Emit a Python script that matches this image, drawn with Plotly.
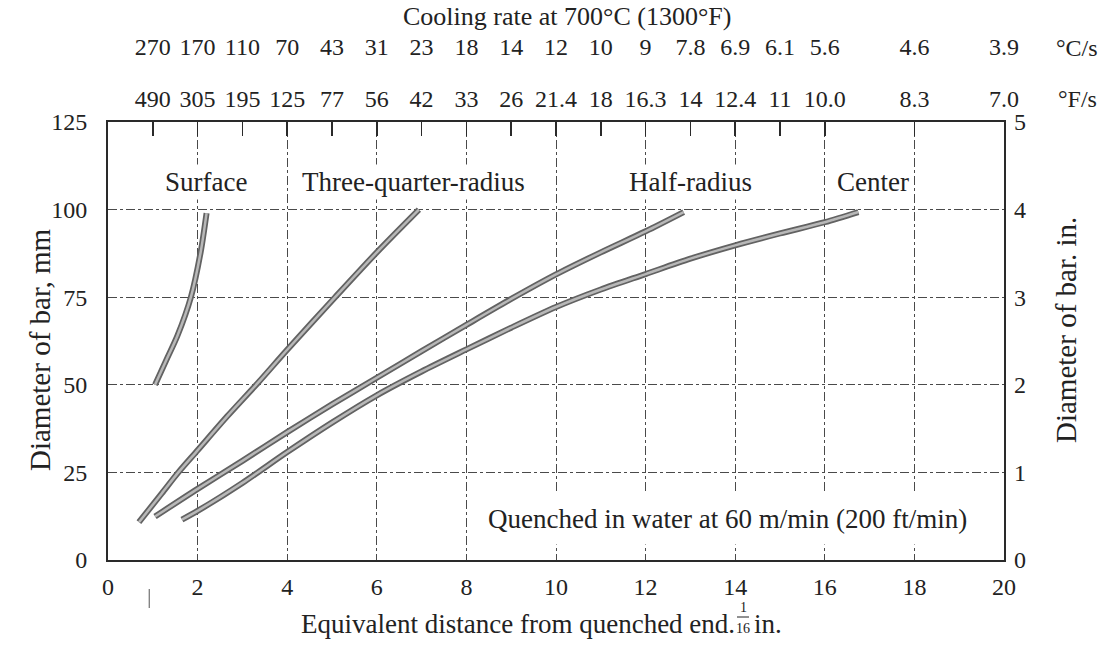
import plotly.graph_objects as go

# ---------------- data ----------------
dist_ticks = [0, 2, 4, 6, 8, 10, 12, 14, 16, 18, 20]
diam_mm_ticks = [0, 25, 50, 75, 100, 125]
diam_in_ticks = [0, 1, 2, 3, 4, 5]

rate_positions = [1, 2, 3, 4, 5, 6, 7, 8, 9, 10, 11, 12, 13, 14, 15, 16, 18, 20]
rate_c = ["270", "170", "110", "70", "43", "31", "23", "18", "14", "12", "10", "9",
          "7.8", "6.9", "6.1", "5.6", "4.6", "3.9"]
rate_f = ["490", "305", "195", "125", "77", "56", "42", "33", "26", "21.4", "18", "16.3",
          "14", "12.4", "11", "10.0", "8.3", "7.0"]

surface_x = [1.05, 1.30, 1.55, 1.85, 2.07, 2.20]
surface_y = [50, 57, 64, 75, 88, 99]

three_q_x = [0.69, 1.20, 1.57, 2.00, 2.66, 3.35, 4.00, 5.07, 6.00, 6.94]
three_q_y = [10.8, 19.0, 25.0, 31.3, 41.0, 50.6, 60.0, 75.0, 87.8, 100.0]

half_x = [1.05, 2.0, 3.0, 4.0, 5.0, 6.0, 7.0, 8.0, 9.0, 10.0, 11.0, 12.0, 12.85]
half_y = [12.4, 20.3, 28.3, 36.5, 44.4, 52.0, 59.6, 67.1, 74.5, 81.5, 87.8, 93.8, 99.3]

center_x = [1.65, 2.0, 3.0, 4.0, 5.0, 6.0, 7.0, 8.0, 9.0, 10.0, 11.0, 12.0, 13.0,
            14.0, 15.0, 16.0, 16.75]
center_y = [11.5, 14.0, 22.0, 30.8, 39.2, 47.0, 53.8, 60.1, 66.3, 72.2, 77.2, 81.6,
            86.0, 89.8, 93.2, 96.4, 99.3]

curve_labels = ["Surface", "Three-quarter-radius", "Half-radius", "Center"]
curve_label_x = [2.18, 6.83, 13.0, 17.07]
curve_label_y = 108

# ---------------- geometry helpers ----------------
# the page body margin is removed (post_script), so the figure starts at (0, 0)
OFF = 0
W, H = 1112 - OFF, 658 - OFF
PL, PR, PT, PB = 108 - OFF, 1004 - OFF, 122 - OFF, 560 - OFF   # plot area, figure px


def px(xs):
    """screen x pixel -> paper x"""
    return (xs - OFF - PL) / (PR - PL)


def py(ys):
    """screen y pixel -> paper y"""
    return (PB - (ys - OFF)) / PB


FONT = "Liberation Serif"
TXT = "#222222"
GRID = "#4a4a4a"
FRAME = "#2a2a2a"

fig = go.Figure()

for cx, cy in [(surface_x, surface_y), (three_q_x, three_q_y),
               (half_x, half_y), (center_x, center_y)]:
    fig.add_trace(go.Scatter(x=cx, y=cy, mode="lines",
                             line=dict(color="#626262", width=6, shape="spline", smoothing=0.8),
                             showlegend=False, hoverinfo="skip"))
    fig.add_trace(go.Scatter(x=cx, y=cy, mode="lines",
                             line=dict(color="#b8b8b8", width=2.5, shape="spline", smoothing=0.8),
                             showlegend=False, hoverinfo="skip"))

# dummy traces so the extra axes are drawn
fig.add_trace(go.Scatter(x=[0, 20], y=[None, None], xaxis="x2", yaxis="y",
                         mode="lines", showlegend=False, hoverinfo="skip"))
fig.add_trace(go.Scatter(x=[0, 20], y=[None, None], xaxis="x3", yaxis="y",
                         mode="lines", showlegend=False, hoverinfo="skip"))
fig.add_trace(go.Scatter(x=[None, None], y=[0, 5], xaxis="x", yaxis="y2",
                         mode="lines", showlegend=False, hoverinfo="skip"))

tickfont = dict(family=FONT, size=24, color=TXT)
ydom = [0, (PB - PT) / PB]

fig.update_layout(
    width=W, height=H,
    margin=dict(l=PL, r=W - PR, t=0, b=H - PB, autoexpand=False),
    paper_bgcolor="white", plot_bgcolor="white",
    showlegend=False,
    xaxis=dict(range=[0, 20], tickvals=dist_ticks, ticktext=[str(v) for v in dist_ticks],
               showgrid=True, gridcolor=GRID, gridwidth=1, griddash="dashdot",
               zeroline=False, showline=True, linecolor=FRAME, linewidth=2, mirror=True,
               ticks="", tickfont=tickfont, ticklabelstandoff=4, fixedrange=True),
    xaxis2=dict(range=[0, 20], overlaying="x", side="top", anchor="y",
                tickvals=rate_positions, ticktext=rate_f, ticks="inside", ticklen=14,
                tickcolor=FRAME, tickwidth=1.5, showgrid=False, zeroline=False,
                showline=False, tickfont=tickfont, ticklabelstandoff=9),
    xaxis3=dict(range=[0, 20], overlaying="x", side="top", anchor="free",
                position=py(60), tickvals=rate_positions, ticktext=rate_c, ticks="",
                showgrid=False, zeroline=False, showline=False, tickfont=tickfont),
    yaxis=dict(range=[0, 125], domain=ydom, tickvals=diam_mm_ticks,
               showgrid=True, gridcolor=GRID, gridwidth=1, griddash="dashdot",
               zeroline=False, showline=True, linecolor=FRAME, linewidth=2, mirror=True,
               ticks="", tickfont=tickfont, ticklabelstandoff=14),
    yaxis2=dict(range=[0, 5], overlaying="y", side="right", anchor="x",
                tickvals=diam_in_ticks, showgrid=False, zeroline=False, showline=False,
                ticks="", tickfont=tickfont, ticklabelstandoff=9),
)


def note(x, y, text, size, **kw):
    d = dict(x=x, y=y, xref="paper", yref="paper", text=text, showarrow=False,
             xanchor="center", yanchor="middle",
             font=dict(family=FONT, size=size, color=TXT))
    d.update(kw)
    return d


ann = []
for lab, lx in zip(curve_labels, curve_label_x):
    ann.append(dict(x=lx, y=curve_label_y, xref="x", yref="y", text=lab, showarrow=False,
                    xanchor="center", yanchor="middle",
                    font=dict(family=FONT, size=27, color=TXT), bgcolor="white", borderpad=2))
ann.append(dict(x=13.82, y=11.8, xref="x", yref="y",
                text="Quenched in water at 60 m/min (200 ft/min)", showarrow=False,
                xanchor="center", yanchor="middle",
                font=dict(family=FONT, size=27, color=TXT), bgcolor="white", borderpad=10))
ann.append(note(px(567), py(16), "Cooling rate at 700°C (1300°F)", 26))
ann.append(note(px(1077), py(48), "°C/s", 24))
ann.append(note(px(1077), py(99), "°F/s", 24))
ann.append(note(px(40), py(350), "Diameter of bar, mm", 29, textangle=-90))
ann.append(note(px(1066), py(330), "Diameter of bar. in.", 29, textangle=-90))
ann.append(note(px(737), py(624), "Equivalent distance from quenched end.", 27, xanchor="right"))
ann.append(note(px(743), py(607), "1", 14))
ann.append(note(px(743), py(628), "16", 14))
ann.append(note(px(752), py(624), "in.", 27, xanchor="left"))
fig.update_layout(annotations=ann)

fig.add_shape(type="line", xref="paper", yref="paper", x0=px(737), x1=px(749),
              y0=py(617), y1=py(617), line=dict(color=TXT, width=1))
fig.add_shape(type="line", xref="x", yref="paper", x0=0.92, x1=0.92,
              y0=py(589), y1=py(608), line=dict(color="#555555", width=1))

fig.write_html("out.html",
               config={"displayModeBar": False, "staticPlot": True},
               post_script="document.body.style.margin='0px';"
                           "document.body.style.overflow='hidden';")
